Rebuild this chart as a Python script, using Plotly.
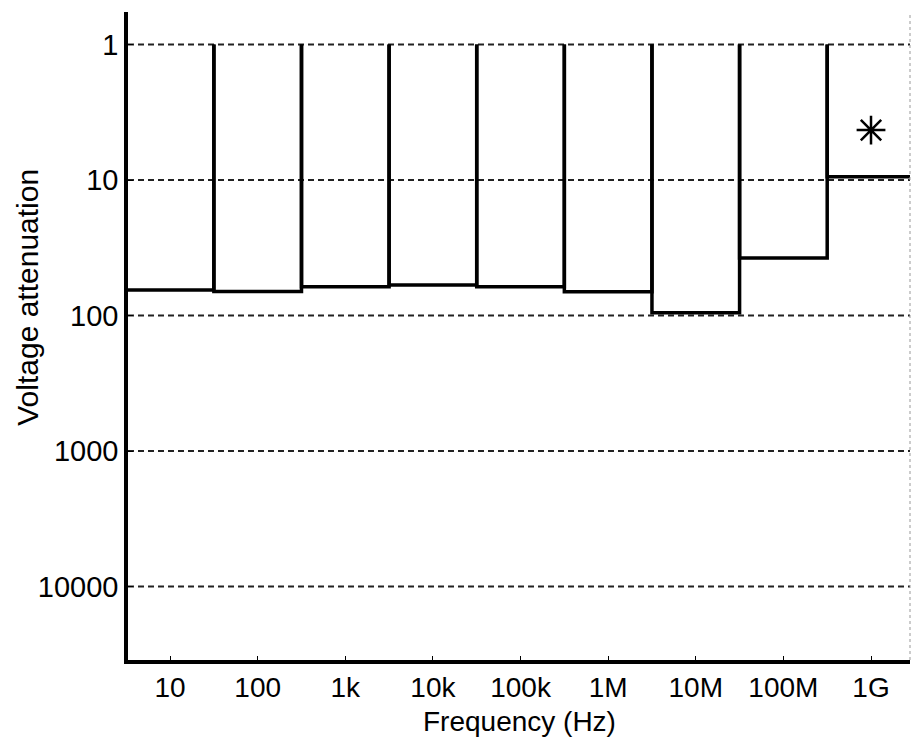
import plotly.graph_objects as go

# Data
freq_labels = ["10", "100", "1k", "10k", "100k", "1M", "10M", "100M", "1G"]
freq_exponents = [1, 2, 3, 4, 5, 6, 7, 8, 9]          # log10(frequency)
attenuation = [64.8, 66.5, 61.3, 59.6, 61.3, 66.7, 95.3, 37.6, 9.45]
y_tick_vals = [1, 10, 100, 1000, 10000]
y_tick_text = ["1", "10", "100", "1000", "10000"]
marker_freq_exp = [9]
marker_atten = [4.28]

# Bars: open-topped rectangles hanging from attenuation 1
xs, ys = [], []
for c, v in zip(freq_exponents, attenuation):
    l, r = c - 0.5, c + 0.5
    xs += [l, l, r, r, None]
    ys += [1, v, v, 1, None]

fig = go.Figure()
fig.add_trace(go.Scatter(x=xs, y=ys, mode="lines",
                         line=dict(color="black", width=3.5),
                         hoverinfo="skip", showlegend=False))
fig.add_trace(go.Scatter(x=marker_freq_exp, y=marker_atten, mode="markers",
                         marker=dict(symbol="asterisk-open", size=24, color="black",
                                     line=dict(color="black", width=2.5)),
                         showlegend=False))

# dashed gridlines
for v in y_tick_vals:
    fig.add_shape(type="line", xref="paper", x0=0, x1=1, yref="y", y0=v, y1=v,
                  line=dict(color="#222", width=2, dash="6px,4px"), layer="below")
# thin right border
fig.add_shape(type="line", xref="paper", x0=1, x1=1, yref="paper", y0=0, y1=1,
              line=dict(color="#999", width=1, dash="dot"))

FONT = "Liberation Sans, Arial, sans-serif"
fig.add_annotation(text="Frequency (Hz)", xref="paper", yref="paper",
                   x=0.5, y=0, yshift=-61, xanchor="center", yanchor="middle",
                   showarrow=False, font=dict(family=FONT, size=28, color="black"))
fig.add_annotation(text="Voltage attenuation", xref="paper", yref="paper",
                   x=0, xshift=-100, y=0.559, xanchor="center", yanchor="middle",
                   textangle=-90, showarrow=False,
                   font=dict(family=FONT, size=30, color="black"))

fig.update_layout(
    width=912, height=740,
    margin=dict(l=128, r=2, t=12, b=80),
    paper_bgcolor="white", plot_bgcolor="white",
    font=dict(family=FONT, size=28, color="black"),
    xaxis=dict(range=[0.52, 9.445], tickvals=freq_exponents, ticktext=freq_labels,
               showgrid=False, zeroline=False, showline=True, linecolor="black",
               linewidth=3.5, ticks="inside", ticklen=4, tickcolor="black",
               tickfont=dict(size=28)),
    yaxis=dict(type="log", range=[4.542, -0.24], tickvals=y_tick_vals,
               ticktext=y_tick_text, showgrid=False, zeroline=False,
               showline=True, linecolor="black", linewidth=3.5,
               ticks="inside", ticklen=5, tickcolor="black",
               tickfont=dict(size=29)),
)

fig.write_html("out.html")
